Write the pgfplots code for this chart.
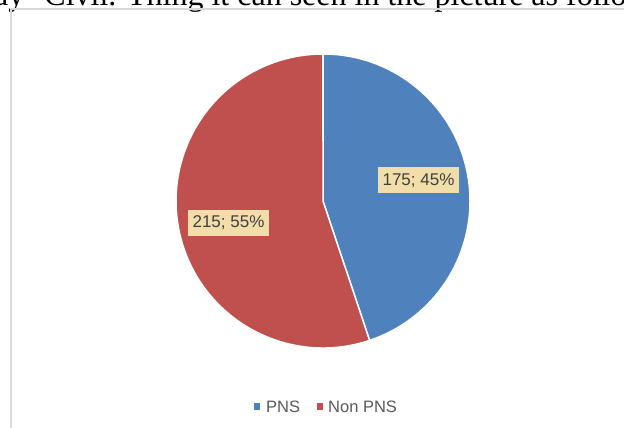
\documentclass[border=0pt]{standalone}
\usepackage{pgfplots}
\usepackage{pgfplotstable}
\pgfplotsset{compat=1.18}
\usepackage{fontspec}
\setmainfont{Liberation Sans}
\newfontfamily\seriffont{Liberation Serif}
\definecolor{pnsblue}{HTML}{4F81BD}
\definecolor{nonred}{HTML}{C0504D}
\definecolor{lblfill}{HTML}{F2DEA8}
\definecolor{lbltext}{HTML}{404040}
\definecolor{legtext}{HTML}{595959}
\definecolor{framegray}{HTML}{D9D9D9}

\pgfplotstableread{
label value
PNS 175
NonPNS 215
}\piedata

\begin{document}
\begin{tikzpicture}[x=1pt,y=1pt]
\clip (0,0) rectangle (624,428);
\path (0,0) rectangle (624,428);
% cropped line of document text above the chart
\node[anchor=base west, inner sep=0pt, font=\seriffont\fontsize{32}{38}\selectfont] at (-6,422) {ay\hspace{12pt} Civil. Thing it can seen in the picture as follows};
% chart area frame
\draw[framegray, line width=1.5pt] (11,-5) -- (11,419) -- (630,419);
\begin{axis}[
  at={(0,0)}, anchor=south west,
  scale only axis, width=624pt, height=428pt,
  xmin=0, xmax=624, ymin=0, ymax=428,
  hide axis, clip=false]
  \pgfplotstablegetelem{0}{value}\of\piedata \let\va\pgfplotsretval
  \pgfplotstablegetelem{1}{value}\of\piedata \let\vb\pgfplotsretval
  \pgfmathsetmacro{\tot}{\va+\vb}
  \pgfmathsetmacro{\angA}{90-\va/\tot*360}
  \pgfmathsetmacro{\angB}{\angA-\vb/\tot*360}
  \pgfmathtruncatemacro{\pA}{round(\va/\tot*100)}
  \pgfmathtruncatemacro{\pB}{round(\vb/\tot*100)}
  \fill[pnsblue, draw=white, line width=1.5pt] (axis cs:323,227) -- ++(90:147) arc[start angle=90, end angle=\angA, radius=147pt] -- cycle;
  \fill[nonred, draw=white, line width=1.5pt] (axis cs:323,227) -- ++(\angA:147) arc[start angle=\angA, end angle=\angB, radius=147pt] -- cycle;
  \node[fill=lblfill, text=lbltext, inner xsep=5pt, minimum height=26pt, font=\fontsize{17}{20}\selectfont]
    at (axis cs:418.5,247.5) {\va; \pA\%};
  \node[fill=lblfill, text=lbltext, inner xsep=5pt, minimum height=26pt, font=\fontsize{17}{20}\selectfont]
    at (axis cs:228.5,205) {\vb; \pB\%};
  % legend
  \fill[pnsblue] (axis cs:254,18) rectangle (axis cs:260,25);
  \node[anchor=base west, inner sep=0pt, text=legtext, font=\fontsize{16.5}{19}\selectfont] at (axis cs:266,15) {PNS};
  \fill[nonred] (axis cs:317,18) rectangle (axis cs:323,25);
  \node[anchor=base west, inner sep=0pt, text=legtext, font=\fontsize{16.5}{19}\selectfont] at (axis cs:328,15) {Non PNS};
\end{axis}
\end{tikzpicture}
\end{document}
